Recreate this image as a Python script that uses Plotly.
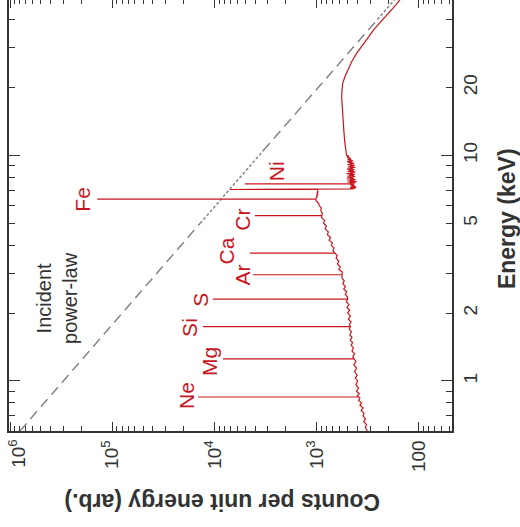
import math
import plotly.graph_objects as go

# ---------------- data ----------------
# continuum of the reflected spectrum: energy (keV) / counts
cont_energy = [0.60, 0.62, 0.64, 0.66, 0.68, 0.70, 0.72, 0.74, 0.76, 0.78, 0.80, 0.82, 0.84,
               0.86, 0.88, 0.90, 0.93, 0.96, 1.00, 1.03, 1.06, 1.10, 1.14, 1.18, 1.22,
               1.28, 1.32, 1.36, 1.40, 1.44, 1.48, 1.52, 1.56, 1.60, 1.65, 1.70,
               1.78, 1.83, 1.88, 1.94, 2.00, 2.06, 2.12, 2.18, 2.24,
               2.36, 2.42, 2.48, 2.55, 2.62, 2.70, 2.78, 2.86,
               3.04, 3.12, 3.20, 3.30, 3.40, 3.50, 3.60,
               3.78, 3.88, 3.98, 4.10, 4.20, 4.32, 4.45, 4.58, 4.72, 4.86, 5.00, 5.15, 5.30,
               5.55, 5.70, 5.85, 5.99, 6.10, 6.20, 6.30,
               6.50, 6.58, 6.65, 6.72, 6.80, 6.88, 6.96, 7.02,
               7.11, 7.15, 7.18, 7.22, 7.25, 7.29, 7.32, 7.36, 7.40,
               7.55, 7.58, 7.62, 7.66, 7.70, 7.74, 7.78, 7.82, 7.86, 7.90, 7.94, 7.98, 8.02,
               8.06, 8.10, 8.15, 8.20, 8.25, 8.30, 8.35, 8.40, 8.45, 8.50, 8.55, 8.60,
               8.65, 8.70, 8.75, 8.80, 8.85, 8.90, 8.95, 9.00, 9.05, 9.10, 9.15, 9.20,
               9.25, 9.30, 9.35, 9.40, 9.45, 9.50, 9.55, 9.60, 9.65, 9.70, 9.75, 9.80, 9.90,
               10.0, 10.5, 11.5, 12.9, 14.0, 15.4, 16.5, 18.1, 19.5, 20.9, 22.3, 23.9, 26.0,
               28.4, 30.5, 33.1, 36.0, 38.6, 41.0, 44.1, 46.5, 48.9, 52.0]
cont_counts = [320, 334, 326, 346, 334, 352, 344, 368, 352, 378, 364, 390, 378,
               400, 384, 408, 390, 414, 398, 420, 402, 426, 408, 434, 414,
               444, 426, 452, 438, 460, 446, 470, 452, 474, 458, 480,
               478, 462, 490, 468, 498, 476, 506, 484, 512,
               500, 526, 508, 544, 524, 556, 538, 566,
               562, 608, 586, 628, 608, 646, 630,
               694, 676, 718, 702, 756, 732, 786, 770, 826, 804, 856, 840, 896,
               882, 914, 902, 946, 952, 993, 1015,
               1010, 985, 1002, 975, 992, 968, 985, 976,
               455, 420, 472, 410, 465, 418, 452, 430, 470,
               470, 415, 500, 408, 478, 425, 505, 418, 470, 430, 510, 440, 488,
               420, 500, 432, 480, 422, 512, 440, 470, 418, 498, 436, 482,
               428, 506, 445, 478, 420, 495, 438, 470, 425, 500, 448, 476,
               430, 492, 452, 505, 440, 480, 458, 500, 462, 488, 470, 505, 485,
               510, 520, 532, 543, 550, 556, 563, 570, 566, 556, 530, 497, 455,
               406, 365, 317, 278, 242, 212, 185, 168, 154, 135]

# emission lines: energy (keV), peak counts, continuum level under the line
line_names = ["Ne", "Mg", "Si", "S", "Ar", "Ca", "Cr", "Fe Ka2", "Fe Ka1", "Fe Kb", "Ni"]
line_energy = [0.849, 1.254, 1.740, 2.307, 2.957, 3.690, 5.411, 6.391, 6.400, 7.058, 7.472]
line_peak = [14500, 8260, 12950, 10350, 4200, 4500, 4020, 12900, 140000, 7060, 5040]
line_base = [390, 430, 470, 500, 565, 665, 890, 1018, 1021, 976, 430]

# incident power law (dashed), piecewise by dash style
pl_energy_a = [0.60, 5.0]
pl_counts_a = [800000, 13800]
pl_energy_b = [5.0, 10.5]
pl_counts_b = [13800, 3330]
pl_energy_c = [10.5, 40.0]
pl_counts_c = [3330, 255]
pl_energy_d = [40.0, 50.0]
pl_counts_d = [255, 167]

# axis ticks
count_ticks = [1e6, 1e5, 1e4, 1e3, 100]
count_ticktext = ["10<sup>6</sup>", "10<sup>5</sup>", "10<sup>4</sup>", "10<sup>3</sup>", "100"]
energy_ticks = [1, 2, 5, 10, 20]
energy_ticktext = ["1", "2", "5", "10", "20"]

# ---------------- build spectrum polyline ----------------
events = [(e, [c]) for e, c in zip(cont_energy, cont_counts)]
events += [(e, [b, p, b]) for e, p, b in zip(line_energy, line_peak, line_base)]
events.sort(key=lambda t: t[0])
spec_e, spec_c = [], []
for e, cs in events:
    for c in cs:
        spec_e.append(e)
        spec_c.append(c)

RED = "#c8161e"
DARK = "#333333"
FONT = "Liberation Sans, Arial, sans-serif"

fig = go.Figure()
for ex, cy, dash in [(pl_energy_a, pl_counts_a, "10px,6px"),
                     (pl_energy_b, pl_counts_b, "3px,2px"),
                     (pl_energy_c, pl_counts_c, "10px,6px"),
                     (pl_energy_d, pl_counts_d, "3px,2px")]:
    fig.add_trace(go.Scatter(x=cy, y=ex, mode="lines",
                             line=dict(color="#858585", width=1.5, dash=dash),
                             hoverinfo="skip", showlegend=False))
fig.add_trace(go.Scatter(x=spec_c, y=spec_e, mode="lines",
                         line=dict(color=RED, width=1.2),
                         showlegend=False))
# dummy trace so overlay axes are drawn
fig.add_trace(go.Scatter(x=[1000], y=[5], xaxis="x2", yaxis="y2", mode="lines",
                         showlegend=False, hoverinfo="skip"))

xr = [6.01, math.log10(47.5)]
yr = [math.log10(0.6), 1.6889]

minor_counts = [m * 10 ** d for d in range(1, 6) for m in range(2, 10)]
minor_energy = [0.7, 0.8, 0.9, 3, 4, 6, 7, 8, 9, 30, 40]

# the first count label sits nudged inside the figure, as in the reference
axis_ticktext = [""] + count_ticktext[1:]

fig.update_layout(
    template="none",
    width=520, height=527,
    margin=dict(l=9, r=68, t=0, b=96),
    paper_bgcolor="white", plot_bgcolor="white",
    font=dict(family=FONT, color=DARK),
    showlegend=False,
    xaxis=dict(type="log", range=xr, autorange=False, showgrid=False, zeroline=False,
               showline=True, linecolor=DARK, linewidth=1.5, mirror=False,
               ticks="inside", ticklen=9, tickwidth=1.3, tickcolor=DARK,
               tickvals=count_ticks, ticktext=axis_ticktext, tickangle=-90,
               tickfont=dict(size=19, color=DARK),
               minor=dict(ticks="inside", ticklen=5, tickwidth=1.2, tickcolor=DARK,
                          tickvals=minor_counts),
               automargin=False),
    xaxis2=dict(type="log", range=xr, autorange=False, overlaying="x", side="top",
                anchor="y", showgrid=False, zeroline=False, showline=False,
                ticks="inside", ticklen=8, tickwidth=1.3, tickcolor=DARK,
                tickvals=count_ticks, showticklabels=False,
                minor=dict(ticks="inside", ticklen=4, tickwidth=1.2, tickcolor=DARK,
                           tickvals=minor_counts),
                automargin=False),
    yaxis=dict(type="log", range=yr, autorange=False, side="right", showgrid=False,
               zeroline=False, showline=True, linecolor=DARK, linewidth=1.5,
               mirror="ticks", ticks="inside", ticklen=6, tickwidth=1.3, tickcolor=DARK,
               tickvals=energy_ticks, ticktext=energy_ticktext, tickangle=-90,
               tickfont=dict(size=19, color=DARK),
               minor=dict(ticks="inside", ticklen=6, tickwidth=1.2, tickcolor=DARK,
                          tickvals=minor_energy),
               automargin=False),
    yaxis2=dict(type="log", range=yr, autorange=False, overlaying="y", side="right",
                anchor="x", showgrid=False, zeroline=False, showline=True,
                linecolor=DARK, linewidth=1.5, mirror="ticks",
                ticks="inside", ticklen=11, tickwidth=1.3, tickcolor=DARK,
                tickvals=[1, 10], showticklabels=False, automargin=False),
)

fig.add_annotation(x=0.019, y=-0.052, xref="paper", yref="paper",
                   xanchor="center", yanchor="middle",
                   text=count_ticktext[0], showarrow=False, textangle=-90,
                   font=dict(size=19, color=DARK, family=FONT))

# element labels (positions in counts / energy)
label_text = ["Fe", "Ni", "Cr", "Ca", "Ar", "S", "Si", "Mg", "Ne"]
label_counts = [197000, 2455, 5358, 7586, 5272, 13550, 17340, 11070, 18580]
label_energy = [6.375, 8.49, 5.195, 3.782, 2.959, 2.291, 1.720, 1.227, 0.867]
for t, c, e in zip(label_text, label_counts, label_energy):
    fig.add_annotation(x=math.log10(c), y=math.log10(e), xref="x", yref="y",
                       xanchor="center", yanchor="middle",
                       text=t, showarrow=False, textangle=-90,
                       font=dict(size=21, color=RED, family=FONT))

fig.add_annotation(x=math.log10(353000), y=math.log10(2.339), xref="x", yref="y",
                   xanchor="center", yanchor="middle",
                   text="Incident<br>power-law", showarrow=False, textangle=-90,
                   font=dict(size=20, color=DARK, family=FONT))

# axis titles (rotated like the reference)
fig.add_annotation(x=1.1244, y=0.492, xref="paper", yref="paper",
                   xanchor="center", yanchor="middle",
                   text="<b>Energy (keV)</b>", showarrow=False, textangle=-90,
                   font=dict(size=23, color=DARK, family=FONT))
fig.add_annotation(x=0.482, y=-0.1647, xref="paper", yref="paper",
                   xanchor="center", yanchor="middle",
                   text="<b>Counts per unit energy (arb.)</b>", showarrow=False,
                   textangle=180, font=dict(size=23, color=DARK, family=FONT))

fig.write_html("out.html")
